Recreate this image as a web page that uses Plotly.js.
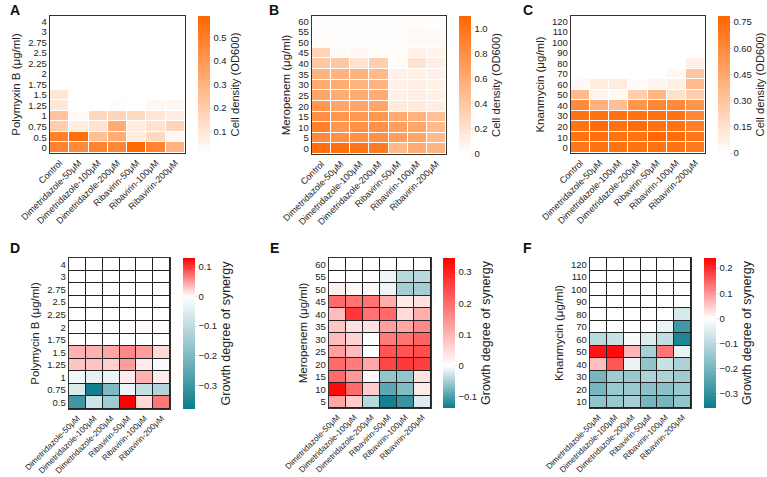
<!DOCTYPE html>
<html><head><meta charset="utf-8">
<script src="https://cdn.plot.ly/plotly-3.0.1.min.js"></script>
<style>body{margin:0;background:#fff}#c{width:767px;height:477px}</style>
</head><body><div id="c"></div>
<script>
const xTop = ['Control','Dimetridazole-50μM','Dimetridazole-100μM','Dimetridazole-200μM','Ribavirin-50μM','Ribavirin-100μM','Ribavirin-200μM'];
const xBottom = ['Dimetridazole-50μM','Dimetridazole-100μM','Dimetridazole-200μM','Ribavirin-50μM','Ribavirin-100μM','Ribavirin-200μM'];

const yA = ['0','0.5','0.75','1','1.25','1.5','1.75','2','2.25','2.5','2.75','3','4'];
const yB = ['0','5','10','15','20','25','30','35','40','45','50','55','60'];
const yC = ['0','10','20','30','40','50','60','70','80','90','100','110','120'];
const yD = ['0.5','0.75','1','1.25','1.5','1.75','2','2.25','2.5','2.75','3','4'];
const yE = ['5','10','15','20','25','30','35','40','45','50','55','60'];
const yF = ['10','20','30','40','50','60','70','80','90','100','110','120'];

const zA = [
 [0.48,0.45,0.48,0.47,0.58,0.48,0.30],
 [0.49,0.56,0.25,0.32,0.08,0.15,0.04],
 [0.20,0.08,0.12,0.33,0.08,0.12,0.17],
 [0.24,0.03,0.16,0.17,0.15,0.10,0.08],
 [0.10,0.01,0.01,0.02,0.01,0.04,0.04],
 [0.10,0.01,0.01,0.01,0.00,0.01,0.01],
 [0.01,0.01,0.01,0.01,0.00,0.00,0.00],
 [0.01,0.01,0.01,0.01,0.00,0.00,0.00],
 [0.00,0.01,0.01,0.01,0.00,0.00,0.00],
 [0.00,0.00,0.01,0.01,0.00,0.00,0.00],
 [0.00,0.00,0.01,0.00,0.00,0.00,0.00],
 [0.00,0.00,0.01,0.01,0.00,0.00,0.00],
 [0.00,0.00,0.00,0.00,0.00,0.00,0.00]
];
const zB = [
 [1.05,1.05,1.00,0.95,0.50,0.60,0.55],
 [0.85,0.80,0.80,0.80,0.70,0.65,0.50],
 [0.92,0.75,0.80,0.80,0.70,0.65,0.50],
 [0.80,0.75,0.75,0.75,0.60,0.55,0.45],
 [0.75,0.65,0.65,0.65,0.15,0.15,0.12],
 [0.65,0.60,0.60,0.60,0.10,0.12,0.10],
 [0.60,0.60,0.55,0.55,0.10,0.12,0.10],
 [0.55,0.55,0.55,0.50,0.10,0.10,0.10],
 [0.40,0.40,0.20,0.35,0.03,0.20,0.12],
 [0.30,0.03,0.05,0.02,0.02,0.10,0.08],
 [0.02,0.01,0.01,0.01,0.01,0.05,0.05],
 [0.01,0.01,0.01,0.01,0.01,0.05,0.03],
 [0.01,0.01,0.01,0.01,0.01,0.01,0.01]
];
const zC = [
 [0.70,0.72,0.72,0.72,0.72,0.72,0.68],
 [0.72,0.74,0.72,0.72,0.78,0.75,0.70],
 [0.72,0.76,0.72,0.75,0.72,0.72,0.65],
 [0.72,0.72,0.72,0.72,0.72,0.72,0.62],
 [0.60,0.40,0.33,0.55,0.62,0.60,0.55],
 [0.35,0.05,0.03,0.25,0.38,0.15,0.25],
 [0.03,0.10,0.10,0.02,0.05,0.08,0.35],
 [0.00,0.00,0.00,0.00,0.00,0.03,0.30],
 [0.00,0.00,0.00,0.00,0.00,0.00,0.08],
 [0.00,0.00,0.00,0.00,0.00,0.00,0.00],
 [0.00,0.00,0.00,0.00,0.00,0.00,0.00],
 [0.00,0.00,0.00,0.00,0.00,0.00,0.00],
 [0.00,0.00,0.00,0.00,0.00,0.00,0.00]
];
const zD = [
 [-0.30,-0.08,-0.15,0.13,0.02,0.07],
 [-0.06,-0.37,-0.20,-0.03,-0.09,-0.12],
 [-0.02,-0.04,-0.03,0.01,0.04,0.01],
 [0.03,0.03,0.025,0.05,0.01,-0.01],
 [0.04,0.04,0.045,0.06,0.05,0.02],
 [0,0,0,0,0,0],
 [0,0,0,0,0.003,0],
 [0,0,0,0,0,0],
 [0,0,0,0,0,0],
 [0,0,0,0,0,0],
 [0,0,0,0,0,0],
 [0,0,0,0,0,0]
];
const zE = [
 [0.12,0.07,-0.04,-0.13,-0.11,-0.02],
 [0.33,0.20,0.07,-0.09,-0.07,0.03],
 [0.20,0.14,0.01,-0.06,-0.06,0.04],
 [0.20,0.18,0.12,0.25,0.27,0.26],
 [0.13,0.09,0.00,0.23,0.23,0.24],
 [0.09,0.06,0.00,0.18,0.19,0.21],
 [0.08,0.04,0.04,0.13,0.12,0.16],
 [0.09,0.27,0.19,0.20,0.05,0.11],
 [0.20,0.19,0.19,0.11,0.03,0.04],
 [0.02,0.01,0.01,-0.01,-0.05,-0.05],
 [0.00,0.00,0.00,-0.01,-0.04,-0.04],
 [0,0,0,0,0,0]
];
const zF = [
 [-0.16,-0.15,-0.13,-0.20,-0.20,-0.16],
 [-0.20,-0.15,-0.15,-0.17,-0.17,-0.15],
 [-0.20,-0.14,-0.15,-0.12,-0.12,-0.14],
 [0.06,0.16,-0.03,-0.16,-0.08,-0.12],
 [0.22,0.23,0.07,-0.13,0.13,-0.03],
 [-0.10,-0.08,-0.01,-0.05,-0.09,-0.33],
 [0,0,0,0,-0.03,-0.28],
 [0,0,0,0,0,-0.06],
 [0,0,0,0,0,0],
 [0,0,0,0,0,0],
 [0,0,0,0,0,0],
 [0,0,0,0,0,0]
];

const W = 767, H = 477;
const FONT = 'Liberation Sans, Arial, sans-serif';
const orange = [[0,'#FFFFFF'],[1,'#FF6600']];
function div(zmin,zmax){const p=-zmin/(zmax-zmin);return [[0,'#0C7B8C'],[p,'#FFFFFF'],[1,'#FF0000']];}

const panels = [
 {x:xTop,y:yA,z:zA,px:[50,185,16,153],cb:198,zmin:0.01,zmax:0.59,tv:[0.1,0.2,0.3,0.4,0.5],tt:null,cs:orange,yt:'Polymyxin B (μg/ml)',ct:'Cell density (OD600)',cts:11.2,xf:9,gap:'#fff',L:'A',lx:8,ly:10},
 {x:xTop,y:yB,z:zB,px:[312,446,16,154],cb:459,zmin:0,zmax:1.1,tv:[0,0.2,0.4,0.6,0.8,1.0],tt:['0','0.2','0.4','0.6','0.8','1.0'],cs:orange,yt:'Meropenem (μg/ml)',ct:'Cell density (OD600)',cts:11.2,xf:9,gap:'#fff',L:'B',lx:267,ly:10},
 {x:xTop,y:yC,z:zC,px:[571,705,16,153],cb:718,zmin:0,zmax:0.785,tv:[0,0.15,0.3,0.45,0.6,0.75],tt:['0','0.15','0.30','0.45','0.60','0.75'],cs:orange,yt:'Knanmycin (μg/ml)',ct:'Cell density (OD600)',cts:11.2,xf:9,gap:'#fff',L:'C',lx:521,ly:10},
 {x:xBottom,y:yD,z:zD,px:[69,170,258,409],cb:183,zmin:-0.38,zmax:0.13,tv:[-0.3,-0.2,-0.1,0,0.1],tt:null,cs:null,yt:'Polymycin B (μg/ml)',ct:'Growth degree of synergy',cts:12.5,xf:8.2,gap:'#222',L:'D',lx:8,ly:248},
 {x:xBottom,y:yE,z:zE,px:[329,431,258,408],cb:443,zmin:-0.135,zmax:0.345,tv:[-0.1,0,0.1,0.2,0.3],tt:null,cs:null,yt:'Meropenem (μg/ml)',ct:'Growth degree of synergy',cts:12.5,xf:8.2,gap:'#222',L:'E',lx:268,ly:248},
 {x:xBottom,y:yF,z:zF,px:[590,691,258,408],cb:704,zmin:-0.357,zmax:0.24,tv:[-0.3,-0.2,-0.1,0,0.1,0.2],tt:null,cs:null,yt:'Knanmycin (μg/ml)',ct:'Growth degree of synergy',cts:12.5,xf:8.2,gap:'#222',L:'F',lx:521,ly:248}
];

const data = [], layout = {width:W,height:H,margin:{l:0,r:0,t:0,b:0},paper_bgcolor:'#fff',plot_bgcolor:'#fff',
  font:{family:FONT,color:'#222'},showlegend:false,shapes:[],annotations:[]};

panels.forEach((p,i)=>{
  const n = i===0?'':String(i+1);
  const [x0,x1,y0,y1] = p.px;
  const cb = {x:p.cb/W,xanchor:'left',y:1-((y0+y1)/2)/H,yanchor:'middle',len:(y1-y0)/H,lenmode:'fraction',
    thickness:12,outlinewidth:0,xpad:0,ypad:0,tickvals:p.tv,ticks:'outside',ticklen:2,tickcolor:'#ddd',
    tickfont:{size:9.5,family:FONT,color:'#222'},
    title:{text:p.ct,side:'right',font:{size:p.cts,family:FONT,color:'#222'}}};
  if(p.tt) cb.ticktext = p.tt;
  data.push({type:'heatmap',x:p.x,y:p.y,z:p.z,xaxis:'x'+n,yaxis:'y'+n,zmin:p.zmin,zmax:p.zmax,
    colorscale:p.cs||div(p.zmin,p.zmax),xgap:1,ygap:1,colorbar:cb,hoverongaps:false});
  layout['xaxis'+n] = {domain:[x0/W,x1/W],anchor:'y'+n,type:'category',dtick:1,showline:true,mirror:true,linecolor:'#333',linewidth:1.3,
    ticks:'',tickangle:-45,tickfont:{size:p.xf,family:FONT,color:'#222'},showgrid:false,zeroline:false,fixedrange:true};
  layout['yaxis'+n] = {domain:[1-y1/H,1-y0/H],anchor:'x'+n,type:'category',dtick:1,showline:true,mirror:true,linecolor:'#333',linewidth:1.3,
    ticks:'',tickfont:{size:9.5,family:FONT,color:'#222'},showgrid:false,zeroline:false,fixedrange:true,
    title:{text:p.yt,font:{size:11.5,family:FONT,color:'#222'},standoff:5}};
  if(p.gap!=='#fff'){
    layout.shapes.push({type:'rect',xref:'x'+n+' domain',yref:'y'+n+' domain',x0:0,x1:1,y0:0,y1:1,fillcolor:p.gap,line:{width:0},layer:'below'});
  }
  layout.annotations.push({text:'<b>'+p.L+'</b>',xref:'paper',yref:'paper',x:p.lx/W,y:1-p.ly/H,xanchor:'left',yanchor:'middle',
    showarrow:false,font:{size:14,family:FONT,color:'#111'}});
});

Plotly.newPlot('c',data,layout,{staticPlot:true,displayModeBar:false});
</script></body></html>
